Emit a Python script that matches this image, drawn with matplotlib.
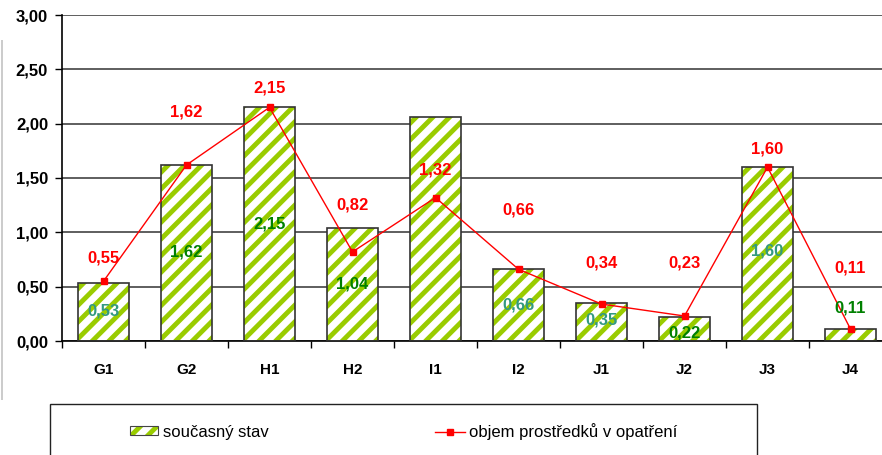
import numpy as np
import matplotlib.pyplot as plt
from matplotlib.patches import Rectangle, Patch
from matplotlib.lines import Line2D
from matplotlib.legend_handler import HandlerTuple

plt.rcParams['font.family'] = ['Liberation Sans', 'DejaVu Sans']

cats = ['G1', 'G2', 'H1', 'H2', 'I1', 'I2', 'J1', 'J2', 'J3', 'J4']
stav = [0.53, 1.62, 2.15, 1.04, 2.06, 0.66, 0.35, 0.22, 1.60, 0.11]
objem = [0.55, 1.62, 2.15, 0.82, 1.32, 0.66, 0.34, 0.23, 1.60, 0.11]
# label placement (data units) as in the original excel chart
stav_lab_y = [0.28, 0.82, 1.08, 0.52, None, 0.33, 0.19, 0.07, 0.83, 0.30]
stav_lab_c = ['#339980', '#008000', '#008000', '#008000', None, '#339980', '#339980', '#008000', '#339980', '#008000']
objem_lab_y = [0.76, 2.11, 2.33, 1.25, 1.57, 1.21, 0.72, 0.72, 1.77, 0.67]

W, H = 882, 455
fig = plt.figure(figsize=(W/100, H/100), dpi=100)
ax = fig.add_axes([62/W, (H-341)/H, 830/W, 326/H])
x = np.arange(len(cats))

plt.rcParams['hatch.linewidth'] = 3.5
ax.bar(x, stav, 0.62, color='white', edgecolor='#99CC00', hatch='//', linewidth=0, zorder=2)
ax.bar(x, stav, 0.62, color='none', edgecolor='#333333', linewidth=1.2, zorder=3)
ax.plot(x, objem, color='red', lw=1, marker='s', ms=5, zorder=4)

for i in range(len(cats)):
    if stav_lab_y[i] is not None:
        ax.text(x[i], stav_lab_y[i], ('%.2f' % stav[i]).replace('.', ','), color=stav_lab_c[i],
                ha='center', va='center', fontsize=12, fontweight='bold', zorder=5)
    ax.text(x[i], objem_lab_y[i], ('%.2f' % objem[i]).replace('.', ','), color='red',
            ha='center', va='center', fontsize=12, fontweight='bold', zorder=5)

ax.set_xlim(-0.5, len(cats) - 0.5)
ax.set_ylim(0, 3)
ax.set_yticks(np.arange(0, 3.01, 0.5))
ax.set_yticklabels([('%.2f' % v).replace('.', ',') for v in np.arange(0, 3.01, 0.5)], fontsize=12, fontweight='bold')
ax.set_xticks(x)
ax.set_xticklabels(cats, fontsize=11, fontweight='bold')
ax.set_xticks(np.arange(-0.5, len(cats), 1), minor=True)
ax.tick_params(axis='x', which='major', length=0, pad=16)
ax.tick_params(axis='x', which='minor', length=5, width=1, direction='out')
ax.tick_params(axis='y', length=5, width=1, direction='out', pad=5)
ax.yaxis.grid(True, color='#333333', lw=1.1, zorder=0)
ax.set_axisbelow(True)
for s in ['top', 'right']:
    ax.spines[s].set_visible(False)
ax.spines['left'].set_linewidth(1.2)
ax.spines['bottom'].set_linewidth(1.2)

# legend box (cropped at bottom)
fig.patches.append(Rectangle((50/W, -0.05), 707/W, (H-404)/H + 0.05, transform=fig.transFigure,
                             fill=False, edgecolor='#222222', lw=1))
fig.patches.append(Rectangle((1/W, (H-400)/H), 1.5/W, 360/H, transform=fig.transFigure,
                             facecolor='#cccccc', edgecolor='none'))
lf = dict(family=['Liberation Sans Narrow', 'Liberation Sans'], size=12)
bar_handle = (Patch(facecolor='white', edgecolor='#99CC00', hatch='//', lw=0),
              Patch(facecolor='none', edgecolor='#444444', lw=0.8))
fig.legend([bar_handle], ['současný stav'], handler_map={tuple: HandlerTuple(ndivide=1)},
           frameon=False, loc='center left', bbox_to_anchor=(130/W, (H-432)/H), prop=lf,
           handlelength=1.7, handleheight=0.5, handletextpad=0.3, borderpad=0, borderaxespad=0)
fig.legend([Line2D([0], [0], color='red', lw=1, marker='s', ms=4)], ['objem prostředků v opatření'],
           frameon=False, loc='center left', bbox_to_anchor=(435/W, (H-432)/H), prop=lf,
           handlelength=1.8, handletextpad=0.25, borderpad=0, borderaxespad=0)

fig.savefig('out.png', dpi=100)
